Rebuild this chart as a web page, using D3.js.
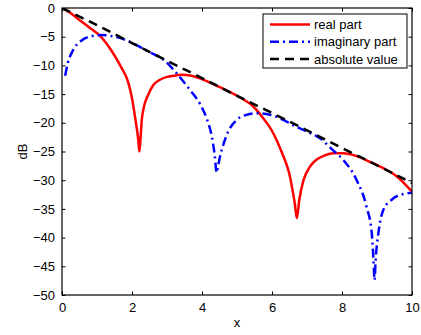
<!DOCTYPE html>
<html>
<head>
<meta charset="utf-8">
<script src="https://cdn.jsdelivr.net/npm/d3@7"></script>
<style>
  html, body { margin: 0; padding: 0; background: #fff; }
  svg { display: block; }
  text { font-family: "Liberation Sans", Arial, Helvetica, sans-serif; fill: #000; }
</style>
</head>
<body>
<svg id="chart" width="421" height="335"></svg>
<script>
// ---- data ----
const xTicks = [0, 2, 4, 6, 8, 10];
const yTicks = [0, -5, -10, -15, -20, -25, -30, -35, -40, -45, -50];

const seriesNames = ["real part", "imaginary part", "absolute value"];

const xReal = [0, 0.2, 0.46, 0.84, 1.08, 1.41, 1.69, 1.89, 1.99, 2.1, 2.18, 2.21, 2.24, 2.28, 2.35, 2.45, 2.6, 2.8, 3.0, 3.2, 3.4, 3.7, 3.94, 4.51, 5.09, 5.47, 5.75, 5.99, 6.13, 6.27, 6.4, 6.5, 6.58, 6.65, 6.71, 6.78, 6.9, 7.09, 7.3, 7.5, 7.75, 8.04, 8.42, 8.8, 9.18, 9.56, 10];
const dbReal = [0, -0.7, -1.9, -3.66, -4.8, -7.4, -10.3, -12.9, -15.4, -19.5, -23, -25, -23, -19.5, -17, -15.3, -13.5, -12.5, -12.0, -11.8, -11.65, -11.8, -12.25, -13.8, -15.6, -17.2, -19.2, -21.3, -23, -25, -27, -29, -31.5, -34, -36.6, -33.4, -30, -27.6, -26.3, -25.7, -25.3, -25.3, -25.8, -26.8, -27.9, -29.3, -32.0];

const xImag = [0.09, 0.17, 0.31, 0.55, 0.84, 1.12, 1.41, 1.79, 2.17, 2.47, 2.9, 3.28, 3.66, 3.94, 4.13, 4.28, 4.36, 4.42, 4.46, 4.51, 4.6, 4.75, 4.99, 5.28, 5.56, 5.94, 6.32, 6.7, 6.99, 7.37, 7.75, 8.04, 8.42, 8.7, 8.85, 8.9, 8.93, 8.96, 9.04, 9.18, 9.42, 9.75, 10];
const dbImag = [-11.8, -9.5, -7.4, -5.7, -4.9, -4.7, -4.9, -5.5, -6.6, -7.6, -9.0, -11.4, -14.3, -16.7, -19.2, -22.4, -25.5, -28.7, -27.5, -26, -24, -21.5, -19.5, -18.6, -18.35, -18.6, -19.5, -20.7, -21.5, -22.7, -24.8, -26.5, -30, -34.6, -39.2, -44, -47.4, -44, -39.2, -35.2, -33.4, -32.4, -32.2];

const xAbs = [0, 1, 2, 3, 4, 5, 6, 7, 8, 9, 10];
const dbAbs = [0, -3.0, -6.1, -9.2, -12.2, -15.3, -18.3, -21.3, -24.4, -27.4, -30.5];

// ---- layout ----
const svg = d3.select("#chart");
const L = 62, R = 412, T = 8, B = 295;
const x = d3.scaleLinear().domain([0, 10]).range([L, R]);
const y = d3.scaleLinear().domain([-50, 0]).range([B, T]);

svg.append("rect").attr("width", 421).attr("height", 335).attr("fill", "#fff");

svg.append("defs").append("clipPath").attr("id", "clip")
  .append("rect").attr("x", L).attr("y", T).attr("width", R - L).attr("height", B - T);

const line = d3.line()
  .x(d => x(d[0])).y(d => y(d[1]))
  .curve(d3.curveMonotoneX);

const series = [
  { xs: xReal, ys: dbReal, color: "#ff0000", dash: null },
  { xs: xImag, ys: dbImag, color: "#0000ff", dash: "9,4,2,4" },
  { xs: xAbs, ys: dbAbs, color: "#000000", dash: "9,6" }
];

const g = svg.append("g").attr("clip-path", "url(#clip)");
series.forEach(s => {
  g.append("path")
    .datum(s.xs.map((v, i) => [v, s.ys[i]]))
    .attr("d", line)
    .attr("fill", "none")
    .attr("stroke", s.color)
    .attr("stroke-width", 2.5)
    .attr("stroke-dasharray", s.dash)
    .attr("stroke-linejoin", "round");
});

// ---- axes (MATLAB-style box, inward ticks on all sides) ----
const tickLen = 3.5;
const fmt = d => d < 0 ? "\u2212" + Math.abs(d) : String(d);

const axB = svg.append("g").attr("transform", `translate(0,${B})`)
  .call(d3.axisBottom(x).tickValues(xTicks).tickSize(-tickLen).tickPadding(8).tickFormat(fmt));
const axT = svg.append("g").attr("transform", `translate(0,${T})`)
  .call(d3.axisTop(x).tickValues(xTicks).tickSize(-tickLen).tickFormat(""));
const axL = svg.append("g").attr("transform", `translate(${L},0)`)
  .call(d3.axisLeft(y).tickValues(yTicks).tickSize(-tickLen).tickPadding(7).tickFormat(fmt));
const axR = svg.append("g").attr("transform", `translate(${R},0)`)
  .call(d3.axisRight(y).tickValues(yTicks).tickSize(-tickLen).tickFormat(""));

[axB, axT, axL, axR].forEach(a => {
  a.select(".domain").remove();
  a.selectAll(".tick line").attr("stroke", "#000").attr("stroke-width", 1);
  a.selectAll("text").attr("font-size", 13).attr("fill", "#000")
    .style("font-family", "'Liberation Sans', Arial, sans-serif");
});

svg.append("rect").attr("x", L).attr("y", T).attr("width", R - L).attr("height", B - T)
  .attr("fill", "none").attr("stroke", "#000").attr("stroke-width", 1.2);

// axis labels
svg.append("text").attr("x", (L + R) / 2).attr("y", 327).attr("text-anchor", "middle")
  .attr("font-size", 13).text("x");
svg.append("text").attr("transform", `translate(26.5,${(T + B) / 2}) rotate(-90)`)
  .attr("text-anchor", "middle").attr("font-size", 13).text("dB");

// ---- legend ----
const lg = svg.append("g");
lg.append("rect").attr("x", 263).attr("y", 14).attr("width", 144).attr("height", 54)
  .attr("fill", "#fff").attr("stroke", "#000").attr("stroke-width", 1);
series.forEach((s, i) => {
  const yy = 24.5 + i * 17.3;
  lg.append("line").attr("x1", 270).attr("x2", 310).attr("y1", yy).attr("y2", yy)
    .attr("stroke", s.color).attr("stroke-width", 2.5).attr("stroke-dasharray", s.dash);
  lg.append("text").attr("x", 314).attr("y", yy).attr("dy", "0.35em")
    .attr("font-size", 13).text(seriesNames[i]);
});
</script>
</body>
</html>
